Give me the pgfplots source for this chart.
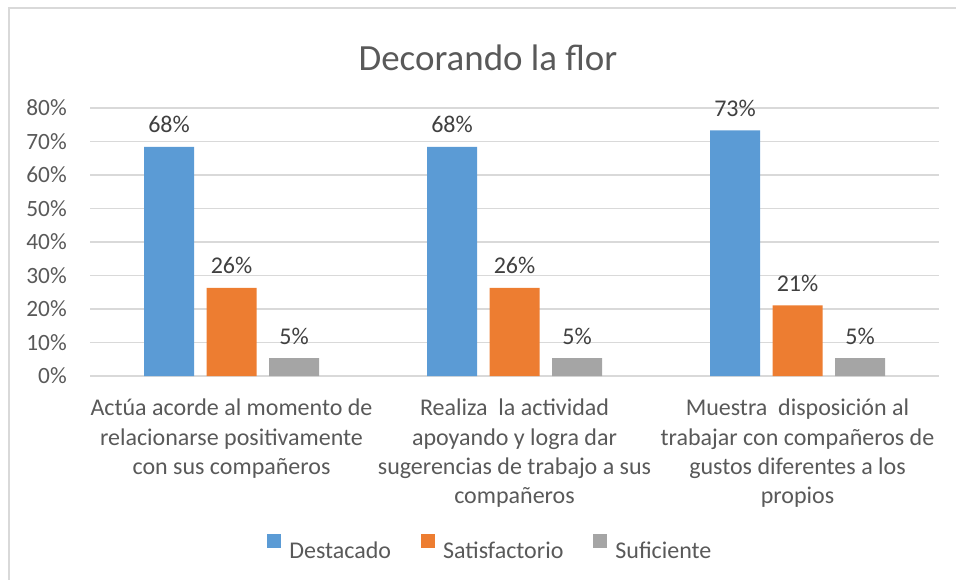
\documentclass[border=0pt]{standalone}
\usepackage{pgfplots}
\pgfplotsset{compat=1.18}
\usepackage{fontspec}
\setmainfont{Carlito}
\definecolor{cblue}{HTML}{5B9BD5}
\definecolor{corange}{HTML}{ED7D31}
\definecolor{cgray}{HTML}{A5A5A5}
\definecolor{gridc}{HTML}{D9D9D9}
\definecolor{txt}{HTML}{595959}
\definecolor{lbl}{HTML}{404040}
\begin{document}
\begin{tikzpicture}[x=0.75pt,y=0.75pt]
\useasboundingbox (0,0) rectangle (956,579);
\draw[gridc, line width=1.1pt] (9,-10) -- (9,571) -- (970,571);
\node[anchor=base, font=\fontsize{27.7}{32}\selectfont, text=txt] at (488,508) {Decorando la flor};
\begin{axis}[
  at={(67.5pt,152.25pt)}, anchor=south west,
  width=636.75pt, height=201pt, scale only axis,
  xmin=-0.5, xmax=2.5, ymin=0, ymax=80,
  ybar=9.375pt, bar width=37.5pt,
  xtick={0,1,2},
  xticklabels={{Actúa acorde al momento de\\relacionarse positivamente\\con sus compañeros},
               {Realiza\ \ la actividad\\apoyando y logra dar\\sugerencias de trabajo a sus\\compañeros},
               {Muestra\ \ disposición al\\trabajar con compañeros de\\gustos diferentes a los\\propios}},
  xticklabel style={align=center, anchor=north, inner sep=0pt, yshift=-17.25pt, font=\fontsize{18}{22}\selectfont, text=txt},
  ytick={0,10,...,80},
  yticklabel={\pgfmathprintnumber{\tick}\%},
  yticklabel style={anchor=east, inner sep=0pt, xshift=-17.25pt, font=\fontsize{17.5}{20}\selectfont, text=txt},
  /pgf/number format/assume math mode=true,
  ymajorgrids, grid style={draw=gridc, line width=1pt},
  axis line style={draw=none}, major tick length=0pt,
  nodes near coords={\pgfmathprintnumber[fixed,precision=0]{\pgfplotspointmeta}\%},
  every node near coord/.append style={anchor=base, yshift=10.5pt, inner sep=0pt, font=\fontsize{18}{20}\selectfont, text=lbl},
  legend columns=3,
  legend style={at={(0.472,-0.645)}, anchor=center, draw=none, fill=none,
    font=\fontsize{18}{20}\selectfont, text=txt,
    /tikz/every even column/.append style={column sep=20.5pt}},
  legend image code/.code={\path[#1, draw=none] (0pt,2.6pt) rectangle (10.5pt,13.1pt); \path (14.5pt,3pt);},
]
\addplot[fill=cblue, draw=none] coordinates {(0,68.4) (1,68.4) (2,73.3)};
\addplot[fill=corange, draw=none] coordinates {(0,26.3) (1,26.3) (2,21.1)};
\addplot[fill=cgray, draw=none] coordinates {(0,5.3) (1,5.3) (2,5.3)};
\legend{Destacado, Satisfactorio, Suficiente}
\end{axis}
\end{tikzpicture}
\end{document}
